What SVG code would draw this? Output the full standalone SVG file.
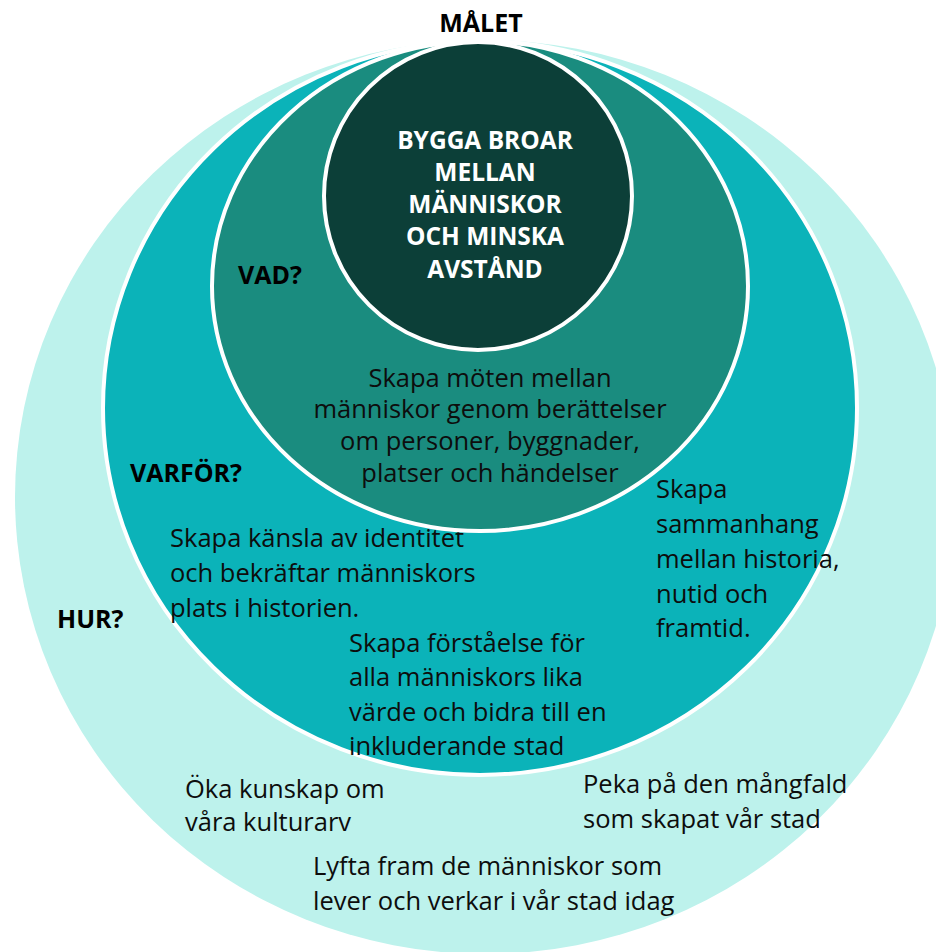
<svg xmlns="http://www.w3.org/2000/svg" width="936" height="952" viewBox="0 0 936 952">
<style>
.ring{stroke:#ffffff;stroke-width:4}
.h{font-family:"Open Sans","Noto Sans","Liberation Sans",sans-serif;font-weight:bold;font-size:25px;fill:#000}
.w{font-family:"Open Sans","Noto Sans","Liberation Sans",sans-serif;font-weight:bold;font-size:24.5px;fill:#ffffff;text-anchor:middle}
.t{font-family:"Open Sans","Noto Sans","Liberation Sans",sans-serif;font-size:25.5px;fill:#0d0d0d}
.c{text-anchor:middle}
</style>
<rect width="936" height="952" fill="#ffffff"/>
<g id="hur">
<ellipse cx="485" cy="497" rx="470" ry="457" fill="#bdf2ec"/>
<text class="h" x="57" y="628">HUR?</text>
<text class="t" x="185" y="798">Öka kunskap om</text>
<text class="t" x="185" y="831">våra kulturarv</text>
<text class="t" x="583" y="793">Peka på den mångfald</text>
<text class="t" x="583" y="828">som skapat vår stad</text>
<text class="t" x="313" y="875">Lyfta fram de människor som</text>
<text class="t" x="313" y="910">lever och verkar i vår stad idag</text>
</g>
<g id="varfor">
<ellipse class="ring" cx="480" cy="408" rx="377" ry="367" fill="#0bb3b9"/>
<text class="h" x="130" y="482">VARFÖR?</text>
<text class="t" x="170" y="547">Skapa känsla av identitet</text>
<text class="t" x="170" y="582">och bekräftar människors</text>
<text class="t" x="170" y="617">plats i historien.</text>
<text class="t" x="349" y="652">Skapa förståelse för</text>
<text class="t" x="349" y="686">alla människors lika</text>
<text class="t" x="349" y="721">värde och bidra till en</text>
<text class="t" x="349" y="755">inkluderande stad</text>
</g>
<g id="vad">
<ellipse class="ring" cx="480" cy="286" rx="268" ry="245" fill="#1a8c7f"/>
<text class="h" x="238" y="284">VAD?</text>
<text class="t c" x="490" y="387">Skapa möten mellan</text>
<text class="t c" x="490" y="418">människor genom berättelser</text>
<text class="t c" x="490" y="450">om personer, byggnader,</text>
<text class="t c" x="490" y="482">platser och händelser</text>
</g>
<g id="sammanhang">
<text class="t" x="656" y="498">Skapa</text>
<text class="t" x="656" y="533">sammanhang</text>
<text class="t" x="656" y="568">mellan historia,</text>
<text class="t" x="656" y="603">nutid och</text>
<text class="t" x="656" y="637">framtid.</text>
</g>
<g id="malet">
<circle class="ring" cx="478" cy="196" r="154" fill="#0c3f38"/>
<text class="w" x="485" y="149">BYGGA BROAR</text>
<text class="w" x="485" y="181">MELLAN</text>
<text class="w" x="485" y="213">MÄNNISKOR</text>
<text class="w" x="485" y="245">OCH MINSKA</text>
<text class="w" x="485" y="278">AVSTÅND</text>
<text class="h" x="481" y="32" text-anchor="middle">MÅLET</text>
</g>
<g id="connectors"/>
</svg>
